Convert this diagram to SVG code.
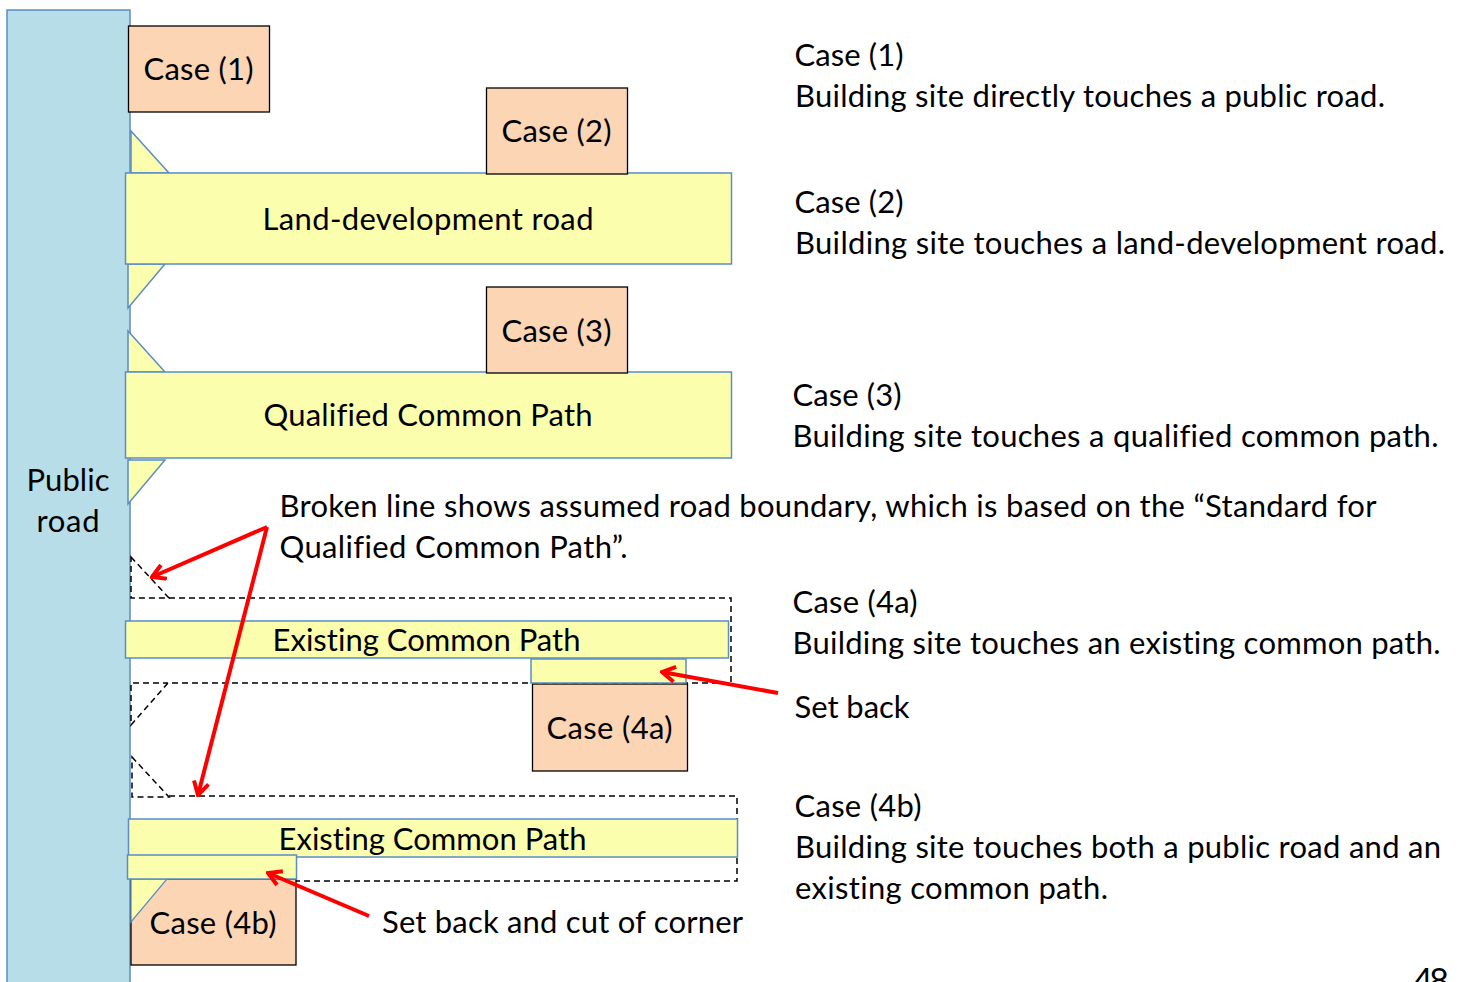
<svg xmlns="http://www.w3.org/2000/svg" width="1462" height="982" viewBox="0 0 1462 982">
<style>
text{font-family:"Lato","Open Sans","Liberation Sans",sans-serif;font-size:31px;fill:#000;font-variant-ligatures:none;}
.m{text-anchor:middle}
.road{fill:#b7dde8;stroke:#5b8cc6;stroke-width:1.5}
.y{fill:#fbffad;stroke:#5b8cc6;stroke-width:1.5}
.c{fill:#fcd5b5;stroke:#000;stroke-width:1.3}
.d{fill:none;stroke:#000;stroke-width:1.5;stroke-dasharray:6 4}
.r{fill:none;stroke:#f00;stroke-width:4}
</style>
<defs><marker id="a" viewBox="0 0 18 18" refX="16" refY="9" markerWidth="18" markerHeight="18" markerUnits="userSpaceOnUse" orient="auto"><path d="M3 1.5L16 9L3 16.5" fill="none" stroke="#f00" stroke-width="4"/></marker></defs>
<g id="public-road"><rect class="road" x="7" y="10" width="123" height="980"/><text class="m" x="68" y="491" textLength="83">Public</text><text class="m" x="68" y="532" textLength="63">road</text></g>
<g id="corners">
<path class="y" d="M131 131L169 173H131Z"/><path class="y" d="M128 264H165L128 308Z"/><path class="y" d="M128 331L165 372H128Z"/><path class="y" d="M128 460H165L128 504Z"/>
</g>
<g id="dashed">
<path class="d" d="M131 557L169 598H131Z"/><path class="d" d="M169 598H731V683H168L131 725V683H168"/>
<path class="d" d="M132 757L169 797H132Z"/><path class="d" d="M169 796H737V881H131V820"/>
</g>
<g id="case-4b"><rect class="c" x="131" y="879" width="165" height="86"/><path fill="#fbffad" stroke="#5b8cc6" stroke-width="1.3" d="M131 879H167L131 922Z"/><text class="m" x="213" y="934" textLength="127">Case (4b)</text></g>
<g id="case-4a"><rect class="c" x="532.500" y="684" width="155" height="87"/><text class="m" x="609.500" y="739" textLength="126">Case (4a)</text></g>
<g id="case-1"><rect class="c" x="128.500" y="26" width="141" height="86"/><text class="m" x="198.500" y="80" textLength="110">Case (1)</text></g>
<g id="land-road"><rect class="y" x="125.500" y="173" width="606" height="91"/><text class="m" x="428" y="230" textLength="331">Land-development road</text></g>
<g id="case-2"><rect class="c" x="486.500" y="88" width="141" height="86"/><text class="m" x="556.500" y="142" textLength="110">Case (2)</text></g>
<g id="common-path"><rect class="y" x="125.500" y="372" width="606" height="86"/><text class="m" x="428" y="426" textLength="329">Qualified Common Path</text></g>
<g id="case-3"><rect class="c" x="486.500" y="287" width="141" height="86"/><text class="m" x="556.500" y="342" textLength="110">Case (3)</text></g>
<g id="existing-4a"><rect class="y" x="125.500" y="621" width="603" height="37"/><text class="m" x="426.500" y="651" textLength="308">Existing Common Path</text><rect class="y" x="531" y="659" width="155" height="24"/></g>
<g id="existing-4b"><rect class="y" x="128.500" y="819" width="609" height="38"/><text class="m" x="432.500" y="850" textLength="308">Existing Common Path</text><rect class="y" x="127.500" y="855" width="169" height="24"/></g>
<g id="connectors">
<path class="r" d="M267 527L152 577" marker-end="url(#a)"/><path class="r" d="M267 527L198 795" marker-end="url(#a)"/>
<path class="r" d="M778 693L662 672" marker-end="url(#a)"/><path class="r" d="M369 916L268 873" marker-end="url(#a)"/>
</g>
<g id="labels">
<text x="794.500" y="66" textLength="109">Case (1)</text><text x="795" y="107" textLength="590">Building site directly touches a public road.</text>
<text x="794.500" y="213" textLength="109">Case (2)</text><text x="795" y="254" textLength="650">Building site touches a land-development road.</text>
<text x="792.500" y="406" textLength="109">Case (3)</text><text x="792.500" y="447" textLength="646">Building site touches a qualified common path.</text>
<text x="279.500" y="517" textLength="1097">Broken line shows assumed road boundary, which is based on the “Standard for</text><text x="279.500" y="558" textLength="348">Qualified Common Path”.</text>
<text x="792.500" y="613" textLength="125">Case (4a)</text><text x="792.500" y="654" textLength="648">Building site touches an existing common path.</text>
<text x="794.500" y="718" textLength="115">Set back</text>
<text x="794.500" y="817" textLength="127">Case (4b)</text><text x="795" y="858" textLength="646">Building site touches both a public road and an</text><text x="795" y="899" textLength="313">existing common path.</text>
<text x="382" y="933" textLength="361">Set back and cut of corner</text>
<text x="1413" y="993" style="font-size:34px" textLength="36">48</text>
</g>
</svg>
